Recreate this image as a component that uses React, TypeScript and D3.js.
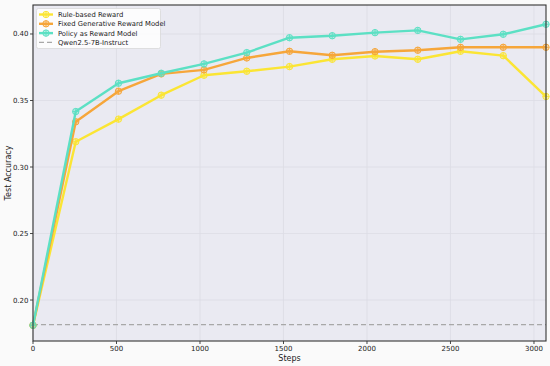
import React, {useEffect, useRef} from 'react';
import * as d3 from 'd3';

// steps at which the model was evaluated
const steps = [0, 256, 512, 768, 1024, 1280, 1536, 1792, 2048, 2304, 2560, 2816, 3072];

// test accuracy for each method
const ruleBased = [0.181, 0.319, 0.336, 0.354, 0.369, 0.372, 0.3755, 0.381, 0.3835, 0.381, 0.387, 0.3837, 0.353];
const fixedGenRM = [0.181, 0.334, 0.357, 0.370, 0.373, 0.382, 0.387, 0.384, 0.3867, 0.3878, 0.390, 0.390, 0.390];
const policyRM = [0.181, 0.3417, 0.363, 0.3705, 0.3775, 0.386, 0.3972, 0.3987, 0.401, 0.4027, 0.396, 0.3998, 0.4073];
const baseline = 0.1815;

const seriesNames = ['Rule-based Reward', 'Fixed Generative Reward Model', 'Policy as Reward Model'];
const baselineName = 'Qwen2.5-7B-Instruct';

const xTicks = [0, 500, 1000, 1500, 2000, 2500, 3000];
const yTicks = [0.2, 0.25, 0.3, 0.35, 0.4];

const W = 550;
const H = 366;

export default function App() {
  const svgRef = useRef<SVGSVGElement>(null);

  useEffect(() => {
    const svg = d3.select(svgRef.current);
    svg.selectAll('*').remove();

    const left = 33, right = 546, top = 5, bottom = 341;
    const x = d3.scaleLinear().domain([0, 3072]).range([left, right]);
    const y = d3.scaleLinear().domain([0.1692, 0.4218]).range([bottom, top]);

    const font = 'DejaVu Sans, sans-serif';

    svg.append('rect').attr('width', W).attr('height', H).attr('fill', '#fafafa');
    svg.append('rect')
      .attr('x', left).attr('y', top)
      .attr('width', right - left).attr('height', bottom - top)
      .attr('fill', '#eaeaf2');

    // grid
    const grid = svg.append('g').attr('stroke', '#dcdce5').attr('stroke-width', 0.8);
    xTicks.forEach((t) => {
      grid.append('line').attr('x1', x(t)).attr('x2', x(t)).attr('y1', top).attr('y2', bottom);
    });
    yTicks.forEach((t) => {
      grid.append('line').attr('x1', left).attr('x2', right).attr('y1', y(t)).attr('y2', y(t));
    });

    // baseline
    svg.append('line')
      .attr('x1', left).attr('x2', right)
      .attr('y1', y(baseline)).attr('y2', y(baseline))
      .attr('stroke', '#a8a8a8').attr('stroke-width', 1.3)
      .attr('stroke-dasharray', '5,3');

    const series = [
      {name: seriesNames[0], values: ruleBased, color: '#fbe534'},
      {name: seriesNames[1], values: fixedGenRM, color: '#f6a63a'},
      {name: seriesNames[2], values: policyRM, color: '#5ce0c4'},
    ];

    const line = d3.line<number>().x((_, i) => x(steps[i])).y((d) => y(d));
    const r = 3.2;

    const plot = svg.append('g');
    series.forEach((s) => {
      plot.append('path')
        .attr('d', line(s.values))
        .attr('fill', 'none')
        .attr('stroke', s.color)
        .attr('stroke-width', 2.4)
        .attr('stroke-linejoin', 'round');
      const m = plot.selectAll(null).data(s.values).enter().append('g')
        .attr('transform', (d, i) => `translate(${x(steps[i])},${y(d)})`);
      m.append('circle').attr('r', r)
        .attr('fill', s.color).attr('fill-opacity', 0.35)
        .attr('stroke', s.color).attr('stroke-width', 1);
      m.append('path').attr('d', `M${-r},0H${r}M0,${-r}V${r}`)
        .attr('stroke', s.color).attr('stroke-width', 0.9);
    });

    // frame
    svg.append('rect')
      .attr('x', left).attr('y', top)
      .attr('width', right - left).attr('height', bottom - top)
      .attr('fill', 'none').attr('stroke', '#333').attr('stroke-width', 1.1);

    // axes
    const xa = svg.append('g').attr('font-family', font).attr('font-size', 7).attr('fill', '#222');
    xTicks.forEach((t) => {
      xa.append('line').attr('x1', x(t)).attr('x2', x(t)).attr('y1', bottom).attr('y2', bottom + 3)
        .attr('stroke', '#333').attr('stroke-width', 0.9);
      xa.append('text').attr('x', x(t)).attr('y', bottom + 9.5).attr('text-anchor', 'middle').text(t);
    });
    const ya = svg.append('g').attr('font-family', font).attr('font-size', 7).attr('fill', '#222');
    yTicks.forEach((t) => {
      ya.append('line').attr('x1', left - 3).attr('x2', left).attr('y1', y(t)).attr('y2', y(t))
        .attr('stroke', '#333').attr('stroke-width', 0.9);
      ya.append('text').attr('x', left - 4.5).attr('y', y(t) + 2.5).attr('text-anchor', 'end').text(d3.format('.2f')(t));
    });

    svg.append('text').attr('x', (left + right) / 2).attr('y', 361)
      .attr('text-anchor', 'middle').attr('font-family', font).attr('font-size', 8).attr('fill', '#222')
      .text('Steps');
    svg.append('text').attr('transform', `translate(11,${(top + bottom) / 2}) rotate(-90)`)
      .attr('text-anchor', 'middle').attr('font-family', font).attr('font-size', 8).attr('fill', '#222')
      .text('Test Accuracy');

    // legend
    const lg = svg.append('g').attr('font-family', font).attr('font-size', 6.8).attr('fill', '#222');
    lg.append('rect').attr('x', 36.5).attr('y', 8.5).attr('width', 124).attr('height', 40)
      .attr('rx', 2).attr('fill', '#ffffff').attr('fill-opacity', 0.85)
      .attr('stroke', '#d8d8d8').attr('stroke-width', 0.8);
    const rowY = [14.5, 23.8, 33.1, 42.4];
    series.forEach((s, i) => {
      lg.append('line').attr('x1', 39).attr('x2', 53).attr('y1', rowY[i]).attr('y2', rowY[i])
        .attr('stroke', s.color).attr('stroke-width', 2.4);
      lg.append('circle').attr('cx', 46).attr('cy', rowY[i]).attr('r', r)
        .attr('fill', s.color).attr('fill-opacity', 0.35).attr('stroke', s.color).attr('stroke-width', 1);
      lg.append('path').attr('d', `M${46 - r},${rowY[i]}H${46 + r}M46,${rowY[i] - r}V${rowY[i] + r}`)
        .attr('stroke', s.color).attr('stroke-width', 0.9);
      lg.append('text').attr('x', 58).attr('y', rowY[i] + 2.4).text(s.name);
    });
    lg.append('line').attr('x1', 39).attr('x2', 53).attr('y1', rowY[3]).attr('y2', rowY[3])
      .attr('stroke', '#a8a8a8').attr('stroke-width', 1.3).attr('stroke-dasharray', '5,3');
    lg.append('text').attr('x', 58).attr('y', rowY[3] + 2.4).text(baselineName);
  }, []);

  return (
    <div style={{position: 'absolute', left: 0, top: 0}}>
      <svg ref={svgRef} width={W} height={H} style={{display: 'block'}} />
    </div>
  );
}
